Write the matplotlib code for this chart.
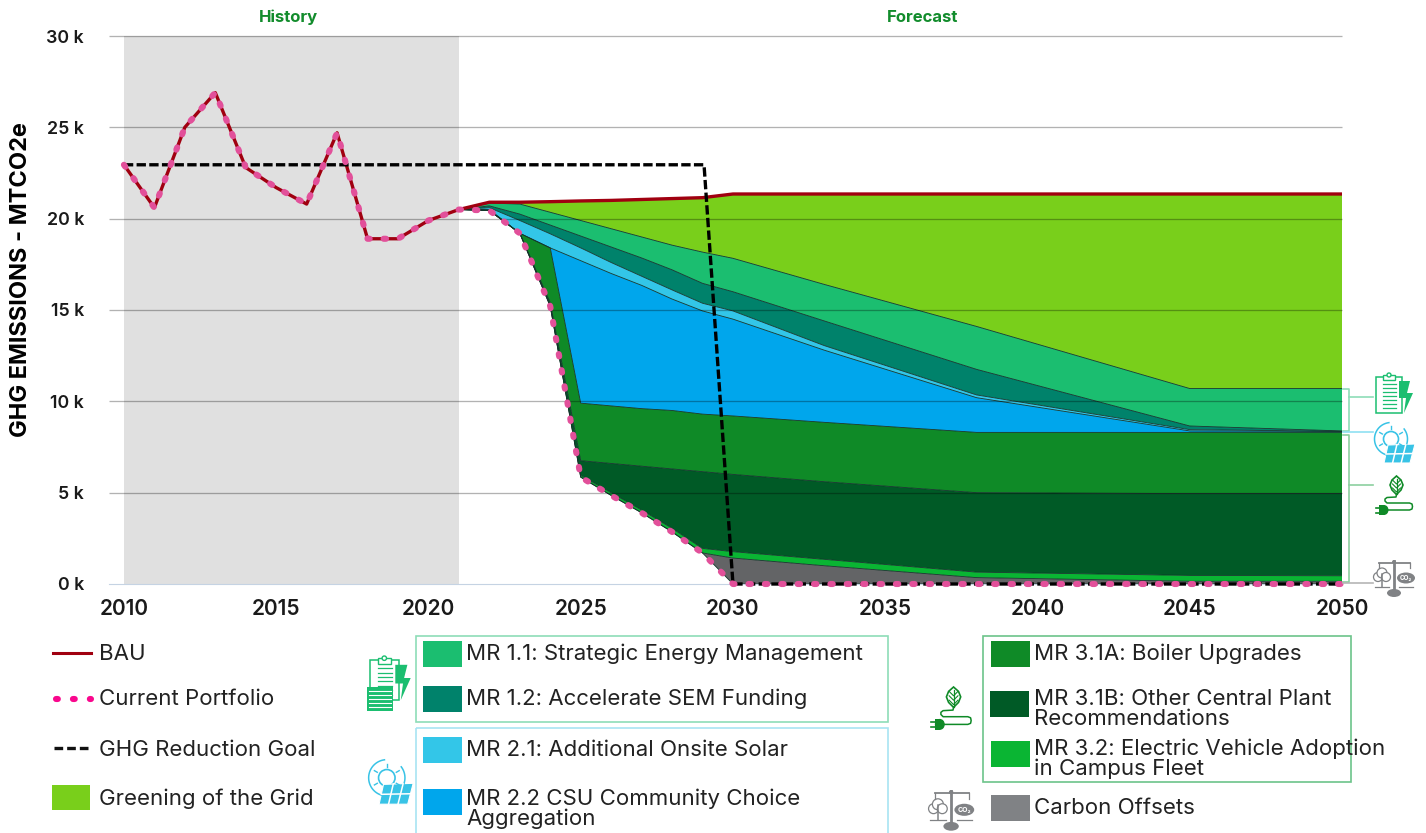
import numpy as np
import matplotlib
matplotlib.use("Agg")
import matplotlib.pyplot as plt
from matplotlib.patches import Rectangle, Circle, Ellipse, Polygon

plt.rcParams['font.family'] = ['Inter', 'DejaVu Sans']

# values in thousands of MTCO2e
history_years = [2010, 2011, 2012, 2013, 2014, 2015, 2016, 2017, 2018, 2019, 2020, 2021]
history = [22.95, 20.6, 25.0, 26.9, 22.8, 21.7, 20.8, 24.7, 18.9, 18.9, 19.9, 20.5]

area_years = [2021, 2022, 2023, 2024, 2025, 2026, 2027, 2028, 2029, 2030, 2033, 2038, 2045, 2050]
bau = [20.5, 20.9, 20.9, 20.93, 20.97, 21.0, 21.05, 21.1, 21.15, 21.35, 21.35, 21.35, 21.35, 21.35]
top_mr11 = [20.5, 20.85, 20.8, 20.35, 19.9, 19.45, 19.0, 18.55, 18.17, 17.83, 16.4, 14.1, 10.7, 10.7]
top_mr12 = [20.5, 20.7, 20.25, 19.65, 19.05, 18.45, 17.85, 17.2, 16.46, 16.0, 14.4, 11.75, 8.65, 8.38]
top_mr21 = [20.5, 20.6, 19.9, 19.17, 18.4, 17.6, 16.85, 16.1, 15.37, 14.95, 13.05, 10.35, 8.45, 8.36]
top_mr22 = [20.5, 20.5, 19.2, 18.4, 17.7, 17.0, 16.35, 15.6, 14.95, 14.5, 12.8, 10.2, 8.38, 8.35]
top_mr31a = [20.5, 20.45, 19.2, 18.4, 9.9, 9.75, 9.6, 9.5, 9.3, 9.2, 8.85, 8.3, 8.3, 8.3]
top_mr31b = [20.5, 20.45, 19.2, 15.4, 6.75, 6.6, 6.45, 6.3, 6.15, 6.0, 5.6, 5.0, 4.95, 4.95]
top_mr32 = [20.5, 20.45, 19.2, 15.25, 5.95, 5.0, 4.05, 3.05, 1.95, 1.77, 1.35, 0.65, 0.47, 0.45]
top_offsets = [20.5, 20.45, 19.2, 15.2, 5.85, 4.85, 3.9, 2.85, 1.7, 1.42, 1.0, 0.35, 0.15, 0.15]
portfolio = [20.5, 20.45, 19.2, 15.2, 5.85, 4.85, 3.9, 2.85, 1.7, 0.0, 0.0, 0.0, 0.0, 0.0]

goal_years = [2010, 2029.05, 2030, 2050]
goal = [22.95, 22.95, 0.0, 0.0]

y_ticks = [0, 5, 10, 15, 20, 25, 30]
x_ticks = [2010, 2015, 2020, 2025, 2030, 2035, 2040, 2045, 2050]

c_grid = '#79CF1B'
c_11 = '#1BBE70'
c_12 = '#00826B'
c_21 = '#33C6E8'
c_22 = '#00A6EC'
c_31a = '#0F8A27'
c_31b = '#005A26'
c_32 = '#0AB533'
c_off = '#636466'
c_off_legend = '#808285'
c_bau = '#A00010'
c_pink = '#E2509A'
c_label = '#128C2C'

W, H = 1426, 833
fig = plt.figure(figsize=(W / 100, H / 100), dpi=100)
ax = fig.add_axes([109 / W, (H - 584) / H, (1342 - 109) / W, 548 / H])
ax.set_xlim(2009.51, 2050)
ax.set_ylim(0, 30)
for s in ['top', 'left', 'right']:
    ax.spines[s].set_visible(False)
ax.spines['bottom'].set_color('#c5d3e3')

ax.axvspan(2010, 2021, color='#E0E0E0', lw=0, zorder=0)

layers = [(bau, top_mr11, c_grid), (top_mr11, top_mr12, c_11), (top_mr12, top_mr21, c_12),
          (top_mr21, top_mr22, c_21), (top_mr22, top_mr31a, c_22), (top_mr31a, top_mr31b, c_31a),
          (top_mr31b, top_mr32, c_31b), (top_mr32, top_offsets, c_32), (top_offsets, portfolio, c_off)]
for upper, lower, col in layers:
    ax.fill_between(area_years, lower, upper, facecolor=col, lw=0, zorder=1)
    ax.plot(area_years, lower, color='#12352a', lw=0.6, zorder=1.5)

ax.hlines(y_ticks[1:], 2009.51, 2050, color='black', alpha=0.3, lw=0.95, zorder=2, clip_on=False)

ax.plot(history_years + area_years[1:], history + bau[1:], color=c_bau, lw=2.4, zorder=3)
ax.plot(goal_years, goal, color='black', lw=2.4, ls=(0, (2.8, 1.0)), zorder=4, clip_on=False)
ax.plot(history_years + area_years[1:], history + portfolio[1:], color=c_pink, lw=4.4,
        ls=(0, (0.4, 2.28)), dash_capstyle='round', zorder=5, clip_on=False)

ax.set_xticks(x_ticks)
ax.set_xticklabels(x_ticks, fontsize=15, fontweight='semibold', color='#1a1a1a')
ax.set_yticks(y_ticks)
ax.set_yticklabels([f'{v} k' for v in y_ticks], fontsize=12.8, fontweight='semibold', color='#1a1a1a')
ax.tick_params(axis='both', length=0)
ax.tick_params(axis='x', pad=10.5)
ax.tick_params(axis='y', pad=18)

# everything outside the plot is placed in figure pixels
ov = fig.add_axes([0, 0, 1, 1], zorder=10)
ov.set_xlim(0, W)
ov.set_ylim(H, 0)
ov.axis('off')


def label(x, y, s, **kw):
    kw.setdefault('fontsize', 16.0)
    kw.setdefault('va', 'center')
    kw.setdefault('color', '#222222')
    ov.text(x, y, s, **kw)


label(21, 280, 'GHG EMISSIONS - MTCO2e', rotation=90, ha='center', fontsize=17, fontweight='bold', color='black')
label(288, 17, 'History', ha='center', fontsize=12, fontweight='bold', color=c_label)
label(923, 17, 'Forecast', ha='center', fontsize=12, fontweight='bold', color=c_label)

# left legend
ov.plot([53, 91], [653, 653], color=c_bau, lw=2.2)
ov.plot([56, 91], [699, 699], color='#F9078D', lw=4.4, ls=(0, (0.3, 2.47)), dash_capstyle='round')
ov.plot([54, 90], [748, 748], color='#111111', lw=2.4, ls=(0, (2.6, 1.2)))
ov.add_patch(Rectangle((52, 785), 38, 25, fc=c_grid, lw=0))
for y, s in zip([654, 699, 750, 799], ['BAU', 'Current Portfolio', 'GHG Reduction Goal', 'Greening of the Grid']):
    label(99, y, s)

# legend boxes
green_line = '#8EDDB8'
blue_line = '#A8E4F2'
ov.add_patch(Rectangle((416, 635.5), 472, 86.5, fc='none', ec=green_line, lw=1.2))
ov.add_patch(Rectangle((416, 728), 472, 110, fc='none', ec=blue_line, lw=1.2, clip_on=True))
ov.add_patch(Rectangle((982.5, 635.5), 368.5, 146, fc='none', ec='#6CC48A', lw=1.2))

swatches = [(423, 641, c_11), (423, 686, c_12), (423, 737, c_21), (423, 789, c_22),
            (991, 641, c_31a), (990, 691, c_31b), (991, 741, c_32), (991, 795, c_off_legend)]
for x, y, col in swatches:
    ov.add_patch(Rectangle((x, y), 38.5, 25.5, fc=col, lw=0))

label(466, 654, 'MR 1.1: Strategic Energy Management')
label(466, 699, 'MR 1.2: Accelerate SEM Funding')
label(466, 750, 'MR 2.1: Additional Onsite Solar')
label(466, 799, 'MR 2.2 CSU Community Choice')
label(466, 819, 'Aggregation')
label(1034, 654, 'MR 3.1A: Boiler Upgrades')
label(1034, 699, 'MR 3.1B: Other Central Plant')
label(1034, 719, 'Recommendations')
label(1034, 749, 'MR 3.2: Electric Vehicle Adoption')
label(1034, 769, 'in Campus Fleet')
label(1034, 808, 'Carbon Offsets')

# brackets next to the plot
ov.plot([1343, 1349, 1349, 1343], [389, 389, 431, 431], color=green_line, lw=1.2)
ov.plot([1349, 1373], [397, 397], color=green_line, lw=1.2)
ov.plot([1343, 1373], [432, 432], color='#8FE0F2', lw=1.2)
ov.plot([1343, 1349, 1349, 1343], [435, 435, 582, 582], color='#8CCFA0', lw=1.2)
ov.plot([1349, 1373], [485, 485], color='#8CCFA0', lw=1.2)
ov.plot([1343, 1373], [583, 583], color='#b5b5b5', lw=1.2)


def icon_clipboard(ox, oy, k, extra=False):
    col = c_11
    ov.add_patch(Rectangle((ox, oy + 4 * k), 26 * k, 36 * k, fc='white', ec=col, lw=1.1))
    ov.add_patch(Rectangle((ox + 7 * k, oy + 2 * k), 12 * k, 5 * k, fc='white', ec=col, lw=1.0))
    ov.add_patch(Circle((ox + 13 * k, oy + 2 * k), 2 * k, fc='white', ec=col, lw=1.0))
    for i in range(7):
        yy = oy + (11 + 4 * i) * k
        ov.plot([ox + 7 * k, ox + 20 * k], [yy, yy], color=col, lw=0.9)
    bolt = [(23, 8), (34, 8), (31, 20), (37, 20), (28, 40), (30, 25), (23, 25)]
    ov.add_patch(Polygon([(ox + a * k, oy + b * k) for a, b in bolt], fc=col, lw=0))
    if extra:
        ov.add_patch(Rectangle((ox - 3, oy + 31), 26, 24, fc=col, lw=0))
        for i in range(5):
            yy = oy + 35 + 4 * i
            ov.plot([ox - 1, ox + 21], [yy, yy], color='white', lw=0.8)


def icon_solar(ox, oy, k):
    col = '#38C3E6'
    cx, cy = ox + 18 * k, oy + 18 * k
    t = np.linspace(0.15, 2 * np.pi - 0.9, 60)
    ov.plot(cx + 16.5 * k * np.cos(t - 0.8), cy + 16.5 * k * np.sin(t - 0.8), color=col, lw=1.1)
    ov.add_patch(Circle((cx, cy), 7.5 * k, fc='white', ec=col, lw=1.2))
    for a in np.radians([150, 210, 270, 330, 30]):
        ov.plot([cx + 10 * k * np.cos(a), cx + 13 * k * np.cos(a)],
                [cy + 10 * k * np.sin(a), cy + 13 * k * np.sin(a)], color=col, lw=1.0)
    corners = [(15, 24), (42, 23), (37, 42), (11, 42)]
    ov.add_patch(Polygon([(ox + a * k, oy + b * k) for a, b in corners], fc=col, ec='white', lw=0.8))
    for f in [0.33, 0.66]:
        ov.plot([ox + (15 + 27 * f) * k, ox + (11 + 26 * f) * k], [oy + 23.5 * k, oy + 42 * k], color='white', lw=1.1)
    ov.plot([ox + 13 * k, ox + 40 * k], [oy + 33 * k, oy + 32.5 * k], color='white', lw=1.1)


def icon_leaf(ox, oy, k):
    col = c_31a
    outline = [(20.5, 0), (25, 4), (27, 9), (25, 14), (20.5, 18.5), (16, 14), (14, 9), (16, 4)]
    ov.add_patch(Polygon([(ox + a * k, oy + b * k) for a, b in outline], fc='white', ec=col, lw=1.2))
    ov.plot([ox + 20.5 * k] * 2, [oy + 3 * k, oy + 18 * k], color=col, lw=0.9)
    for d in [6, 10, 14]:
        ov.plot([ox + 16.5 * k, ox + 20.5 * k, ox + 24.5 * k], [oy + (d - 2) * k, oy + (d + 2) * k, oy + (d - 2) * k], color=col, lw=0.8)
    wx = [20.5, 20, 11, 9, 9, 11, 33.5, 36, 36.5, 36, 33.5, 12]
    wy = [18.5, 21, 21.5, 23, 25, 27, 27, 28, 30.5, 33, 34, 34]
    ov.plot([ox + a * k for a in wx], [oy + b * k for b in wy], color=col, lw=1.1)
    ov.add_patch(Ellipse((ox + 8 * k, oy + 34 * k), 9 * k, 10 * k, fc=col, lw=0))
    ov.add_patch(Rectangle((ox + 3.3 * k, oy + 29 * k), 4.7 * k, 10 * k, fc=col, lw=0))
    ov.plot([ox, ox + 3.3 * k], [oy + 31.5 * k] * 2, color=col, lw=1.2)
    ov.plot([ox, ox + 3.3 * k], [oy + 36.5 * k] * 2, color=col, lw=1.2)


def icon_scales(ox, oy, k):
    col = c_off_legend
    ov.plot([ox + 21 * k] * 2, [oy + 1 * k, oy + 30 * k], color=col, lw=2.0)
    ov.plot([ox + 6 * k, ox + 37 * k], [oy + 3 * k] * 2, color=col, lw=1.3)
    ov.plot([ox + 6 * k] * 2, [oy + 3 * k, oy + 8 * k], color=col, lw=0.9)
    ov.plot([ox + 37 * k] * 2, [oy + 3 * k, oy + 8 * k], color=col, lw=0.9)
    ov.add_patch(Ellipse((ox + 21 * k, oy + 33 * k), 14 * k, 8 * k, fc=col, lw=0))
    ov.add_patch(Circle((ox + 21 * k, oy + 2 * k), 2 * k, fc=col, lw=0))
    for a, b, r in [(5, 17, 4.5), (9, 13, 5), (13, 17, 4.5)]:
        ov.add_patch(Circle((ox + a * k, oy + b * k), r * k, fc='white', ec=col, lw=0.9))
    ov.plot([ox + 9 * k] * 2, [oy + 14 * k, oy + 27 * k], color=col, lw=1.1)
    ov.plot([ox + 2 * k, ox + 16 * k], [oy + 27 * k] * 2, color=col, lw=0.9)
    ov.add_patch(Ellipse((ox + 33 * k, oy + 18 * k), 18 * k, 11 * k, fc=col, lw=0))
    ov.plot([ox + 26 * k, ox + 40 * k], [oy + 27 * k] * 2, color=col, lw=0.9)
    ov.text(ox + 33 * k, oy + 18 * k, 'CO₂', color='white', fontsize=4.5 * k, fontweight='bold', ha='center', va='center')


icon_clipboard(1376, 373, 1)
icon_solar(1373, 421, 1)
icon_leaf(1376, 476, 1)
icon_scales(1373, 560, 1)
icon_clipboard(370, 656, 1.1, extra=True)
icon_solar(367, 758, 1.1)
icon_leaf(931, 687, 1.1)
icon_scales(928, 790, 1.1)

fig.savefig('out.png', dpi=100)
